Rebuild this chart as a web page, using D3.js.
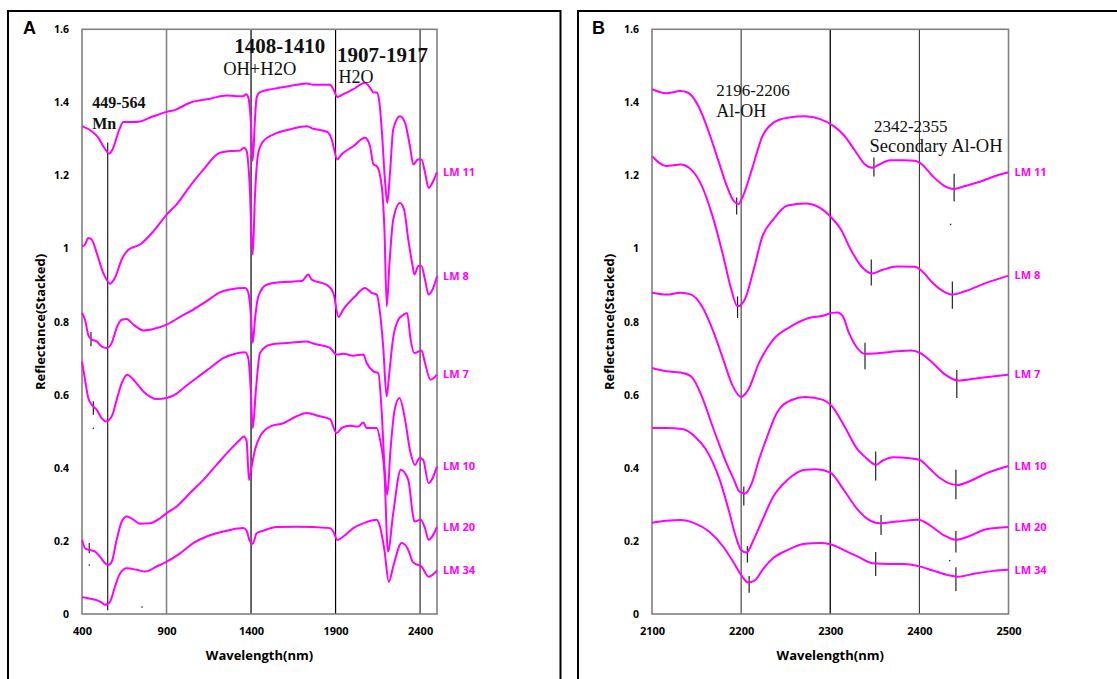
<!DOCTYPE html>
<html><head><meta charset="utf-8">
<script src="https://cdn.jsdelivr.net/npm/d3@7"></script>
<style>body{margin:0;background:#fff}svg{display:block}</style>
</head><body>
<svg id="c" width="1117" height="679"></svg>
<script>
// ---------- data ----------
const seriesNames = ["LM 11","LM 8","LM 7","LM 10","LM 20","LM 34"];
const yTicks = [0,0.2,0.4,0.6,0.8,1,1.2,1.4,1.6];
const xTicksA = [400,900,1400,1900,2400];
const xTicksB = [2100,2200,2300,2400,2500];

const lm11A = [[400,1.335],[457,1.321],[497,1.303],[526,1.280],[562,1.260],[585,1.276],[621,1.326],[645,1.346],[723,1.346],[822,1.362],[901,1.374],[960,1.381],[980,1.386],[1039,1.399],[1157,1.410],[1256,1.419],[1315,1.417],[1354,1.417],[1370,1.422],[1384,1.413],[1398,1.353],[1410,1.240],[1423,1.353],[1433,1.413],[1453,1.428],[1532,1.437],[1630,1.445],[1729,1.452],[1768,1.448],[1867,1.448],[1887,1.436],[1910,1.415],[1936,1.420],[2005,1.436],[2074,1.454],[2104,1.440],[2124,1.427],[2143,1.427],[2157,1.408],[2173,1.326],[2192,1.189],[2206,1.125],[2222,1.207],[2241,1.326],[2281,1.362],[2311,1.344],[2340,1.280],[2360,1.230],[2387,1.244],[2408,1.244],[2429,1.208],[2450,1.166],[2482,1.189],[2500,1.209]];
const lm8A = [[400,1.006],[418,1.011],[437,1.029],[457,1.025],[487,0.988],[526,0.933],[566,0.904],[595,0.920],[635,0.970],[674,0.997],[743,1.011],[822,1.047],[901,1.093],[960,1.121],[1039,1.171],[1118,1.216],[1216,1.262],[1295,1.267],[1335,1.268],[1358,1.276],[1374,1.267],[1390,1.189],[1410,0.984],[1423,1.143],[1443,1.262],[1473,1.294],[1532,1.312],[1630,1.326],[1729,1.335],[1768,1.328],[1837,1.321],[1857,1.317],[1877,1.299],[1910,1.244],[1936,1.258],[2005,1.280],[2074,1.303],[2104,1.280],[2124,1.230],[2143,1.226],[2173,1.171],[2189,1.052],[2203,0.842],[2219,0.961],[2241,1.079],[2281,1.125],[2305,1.107],[2330,1.025],[2356,0.952],[2366,0.929],[2391,0.953],[2408,0.952],[2429,0.915],[2450,0.874],[2482,0.897],[2500,0.924]];
const lm7A = [[400,0.824],[418,0.805],[437,0.764],[457,0.751],[487,0.746],[516,0.732],[546,0.728],[576,0.742],[605,0.783],[635,0.805],[664,0.807],[704,0.792],[763,0.776],[822,0.780],[901,0.792],[980,0.813],[1058,0.833],[1137,0.856],[1216,0.880],[1275,0.888],[1364,0.892],[1384,0.879],[1398,0.824],[1410,0.742],[1423,0.805],[1443,0.869],[1492,0.901],[1571,0.908],[1700,0.911],[1739,0.929],[1759,0.915],[1847,0.901],[1887,0.879],[1917,0.813],[1945,0.833],[2015,0.869],[2074,0.892],[2113,0.879],[2143,0.874],[2163,0.824],[2182,0.730],[2202,0.595],[2218,0.660],[2239,0.750],[2271,0.805],[2302,0.819],[2323,0.824],[2344,0.751],[2366,0.714],[2408,0.721],[2429,0.687],[2461,0.641],[2500,0.655]];
const lm10A = [[400,0.691],[418,0.641],[437,0.591],[457,0.573],[487,0.559],[516,0.536],[542,0.527],[576,0.541],[605,0.586],[635,0.632],[668,0.655],[704,0.641],[763,0.609],[842,0.588],[901,0.591],[960,0.603],[999,0.618],[1078,0.646],[1157,0.673],[1236,0.700],[1295,0.711],[1364,0.716],[1384,0.700],[1398,0.614],[1410,0.509],[1429,0.614],[1453,0.714],[1512,0.737],[1630,0.742],[1729,0.746],[1768,0.740],[1867,0.728],[1906,0.710],[1945,0.712],[2005,0.707],[2064,0.710],[2084,0.687],[2124,0.664],[2153,0.659],[2172,0.560],[2190,0.400],[2206,0.326],[2225,0.450],[2250,0.560],[2278,0.591],[2311,0.532],[2340,0.449],[2370,0.408],[2397,0.427],[2418,0.422],[2450,0.358],[2500,0.404]];
const lm20A = [[400,0.203],[418,0.180],[447,0.175],[477,0.171],[506,0.157],[536,0.139],[556,0.134],[576,0.143],[605,0.203],[635,0.253],[664,0.267],[704,0.258],[743,0.247],[802,0.248],[861,0.262],[901,0.276],[960,0.294],[1039,0.331],[1118,0.367],[1196,0.408],[1275,0.449],[1335,0.477],[1358,0.486],[1374,0.472],[1388,0.367],[1400,0.395],[1423,0.449],[1453,0.486],[1512,0.513],[1591,0.522],[1670,0.541],[1729,0.550],[1798,0.542],[1867,0.533],[1906,0.495],[1936,0.509],[1985,0.515],[2034,0.513],[2064,0.524],[2084,0.509],[2143,0.509],[2163,0.477],[2189,0.385],[2210,0.171],[2241,0.276],[2286,0.395],[2330,0.367],[2356,0.276],[2366,0.253],[2403,0.258],[2429,0.235],[2450,0.203],[2500,0.238]];
const lm34A = [[400,0.046],[437,0.043],[487,0.038],[516,0.031],[536,0.025],[566,0.034],[595,0.075],[625,0.111],[664,0.125],[723,0.121],[773,0.116],[842,0.130],[901,0.143],[980,0.166],[1058,0.194],[1137,0.212],[1196,0.221],[1275,0.230],[1354,0.235],[1374,0.228],[1390,0.203],[1410,0.192],[1433,0.221],[1473,0.228],[1551,0.238],[1670,0.239],[1867,0.235],[1887,0.225],[1910,0.203],[1956,0.216],[2005,0.235],[2064,0.248],[2143,0.258],[2163,0.239],[2189,0.175],[2215,0.088],[2241,0.130],[2291,0.194],[2330,0.175],[2356,0.143],[2366,0.139],[2408,0.130],[2450,0.102],[2500,0.119]];

const lm11B = [[2100,1.436],[2116,1.425],[2132,1.431],[2140,1.427],[2152,1.390],[2164,1.317],[2174,1.244],[2184,1.171],[2192,1.129],[2197,1.122],[2202,1.143],[2212,1.216],[2224,1.308],[2236,1.344],[2252,1.358],[2272,1.362],[2288,1.355],[2304,1.335],[2316,1.308],[2328,1.267],[2339,1.230],[2347,1.221],[2355,1.230],[2367,1.242],[2383,1.242],[2395,1.240],[2403,1.230],[2415,1.198],[2427,1.173],[2439,1.163],[2451,1.171],[2467,1.182],[2487,1.200],[2500,1.209]];
const lm8B = [[2100,1.253],[2116,1.226],[2132,1.230],[2144,1.216],[2156,1.171],[2168,1.088],[2180,0.979],[2188,0.897],[2196,0.842],[2204,0.860],[2214,0.942],[2224,1.034],[2236,1.079],[2252,1.118],[2272,1.123],[2288,1.112],[2300,1.088],[2312,1.052],[2323,0.997],[2335,0.951],[2347,0.932],[2359,0.942],[2375,0.951],[2395,0.950],[2403,0.938],[2415,0.906],[2427,0.883],[2437,0.874],[2451,0.883],[2475,0.906],[2500,0.926]];
const lm7B = [[2100,0.879],[2116,0.874],[2132,0.879],[2144,0.874],[2156,0.842],[2168,0.778],[2180,0.696],[2190,0.627],[2200,0.594],[2208,0.614],[2220,0.687],[2236,0.751],[2256,0.787],[2276,0.810],[2292,0.816],[2302,0.824],[2308,0.825],[2314,0.815],[2321,0.769],[2329,0.732],[2339,0.712],[2355,0.714],[2375,0.719],[2391,0.721],[2401,0.714],[2415,0.687],[2429,0.655],[2443,0.639],[2467,0.646],[2500,0.655]];
const lm10B = [[2100,0.673],[2116,0.664],[2132,0.661],[2144,0.650],[2156,0.595],[2168,0.513],[2176,0.460],[2184,0.410],[2192,0.367],[2198,0.335],[2204,0.329],[2212,0.358],[2220,0.422],[2228,0.477],[2240,0.550],[2256,0.585],[2272,0.594],[2292,0.586],[2302,0.568],[2316,0.513],[2331,0.449],[2339,0.430],[2347,0.413],[2351,0.408],[2359,0.420],[2371,0.429],[2387,0.427],[2400,0.422],[2411,0.399],[2423,0.372],[2435,0.356],[2443,0.353],[2455,0.362],[2475,0.385],[2500,0.405]];
const lm20B = [[2100,0.509],[2116,0.509],[2134,0.506],[2148,0.486],[2160,0.452],[2176,0.367],[2186,0.285],[2194,0.212],[2200,0.175],[2206,0.168],[2214,0.203],[2224,0.258],[2236,0.321],[2252,0.367],[2272,0.395],[2284,0.396],[2300,0.387],[2315,0.340],[2331,0.285],[2343,0.258],[2355,0.248],[2375,0.253],[2399,0.258],[2411,0.244],[2427,0.216],[2441,0.203],[2455,0.212],[2475,0.232],[2500,0.238]];
const lm34B = [[2100,0.250],[2116,0.255],[2132,0.257],[2148,0.248],[2164,0.226],[2180,0.184],[2192,0.139],[2200,0.107],[2208,0.086],[2216,0.093],[2224,0.121],[2236,0.153],[2252,0.175],[2272,0.192],[2288,0.194],[2300,0.191],[2315,0.175],[2331,0.157],[2347,0.139],[2367,0.137],[2383,0.137],[2399,0.131],[2415,0.119],[2431,0.107],[2443,0.102],[2463,0.111],[2483,0.118],[2500,0.121]];

// marker ticks: [wavelength, top value, bottom value]
const markersA = [[552,1.29,0.01],[453,0.772,0.733],[467,0.582,0.545],[443,0.194,0.166]];
const dotsA = [[467,0.508],[443,0.134],[755,0.019]];
const markersB = [[2195,1.140,1.093],[2349,1.249,1.197],[2439,1.205,1.129],
  [2196,0.869,0.810],[2346,0.970,0.899],[2437,0.910,0.835],
  [2339,0.742,0.670],[2442,0.668,0.591],
  [2203,0.349,0.297],[2351,0.445,0.365],[2441,0.395,0.314],
  [2207,0.186,0.141],[2357,0.271,0.216],[2441,0.227,0.168],
  [2209,0.104,0.058],[2351,0.170,0.104],[2441,0.128,0.063]];
const dotsB = [[2435,1.066],[2434,0.146]];

// annotation texts
const annotA = [
  {t:"449-564", x:460, y:1.385, size:16, bold:true},
  {t:"Mn", x:460, y:1.328, size:16, bold:true},
  {t:"1408-1410", x:1300, y:1.536, size:21, bold:true},
  {t:"OH+H2O", x:1235, y:1.474, size:18.5, bold:false},
  {t:"1907-1917", x:1908, y:1.510, size:21, bold:true},
  {t:"H2O", x:1918, y:1.452, size:18, bold:false}
];
const annotB = [
  {t:"2196-2206", x:2172, y:1.417, size:17, bold:false},
  {t:"Al-OH", x:2172, y:1.359, size:18, bold:false},
  {t:"2342-2355", x:2349, y:1.318, size:17, bold:false},
  {t:"Secondary Al-OH", x:2344, y:1.263, size:18.5, bold:false}
];

// ---------- drawing ----------
const svg = d3.select("#c");
svg.append("rect").attr("width",1117).attr("height",679).attr("fill","#fff");
const MAG = "#ff00ff";
const sans = "'Open Sans', Lato, sans-serif";
const serif = "'Liberation Serif', 'DejaVu Serif', serif";

// outer frames
svg.append("rect").attr("x",8).attr("y",11).attr("width",552.5).attr("height",700)
  .attr("fill","none").attr("stroke","#000").attr("stroke-width",2);
svg.append("rect").attr("x",578).attr("y",11).attr("width",600).attr("height",700)
  .attr("fill","none").attr("stroke","#000").attr("stroke-width",2);

const panels = [
  {letter:"A", lx:23, x0:82, x1:437, dom:[400,2500], ticks:xTicksA, series:[lm11A,lm8A,lm7A,lm10A,lm20A,lm34A],
   grid:[[900,"#7f7f7f",1.5],[1400,"#000",1.2],[1900,"#000",1.2],[2400,"#555",1.5]],
   markers:markersA, dots:dotsA, annot:annotA, ytx:40},
  {letter:"B", lx:592, x0:652, x1:1008.5, dom:[2100,2500], ticks:xTicksB, series:[lm11B,lm8B,lm7B,lm10B,lm20B,lm34B],
   grid:[[2200,"#222",1],[2300,"#000",1.3],[2400,"#222",1]],
   markers:markersB, dots:dotsB, annot:annotB, ytx:609}
];

const y = d3.scaleLinear().domain([0,1.6]).range([614,29.3]);

panels.forEach(p => {
  const x = d3.scaleLinear().domain(p.dom).range([p.x0,p.x1]);
  const g = svg.append("g");

  g.append("text").attr("x",p.lx).attr("y",34).text(p.letter)
    .attr("font-family","Arial, 'Liberation Sans', sans-serif").attr("font-weight","bold").attr("font-size",18);

  p.grid.forEach(([v,c,w]) => {
    g.append("line").attr("x1",x(v)).attr("x2",x(v)).attr("y1",y(1.6)).attr("y2",y(0))
      .attr("stroke",c).attr("stroke-width",w);
  });
  g.append("rect").attr("x",p.x0).attr("y",y(1.6)).attr("width",p.x1-p.x0).attr("height",y(0)-y(1.6))
    .attr("fill","none").attr("stroke","#808080").attr("stroke-width",1.6);

  const ya = g.append("g").attr("transform",`translate(${p.x0},0)`)
    .call(d3.axisLeft(y).tickValues(yTicks).tickSize(0).tickPadding(13).tickFormat(d => String(+d.toFixed(1))));
  ya.select(".domain").remove();
  ya.selectAll("text").attr("font-family",sans).attr("font-weight","bold").attr("font-size",10.5).attr("fill","#000");

  const xa = g.append("g").attr("transform",`translate(0,${y(0)})`)
    .call(d3.axisBottom(x).tickValues(p.ticks).tickSize(0).tickPadding(13).tickFormat(d3.format("d")));
  xa.select(".domain").remove();
  xa.selectAll("text").attr("font-family",sans).attr("font-weight","bold").attr("font-size",11).attr("fill","#000");

  g.append("text").attr("x",(p.x0+p.x1)/2).attr("y",660).attr("text-anchor","middle")
    .attr("font-family",sans).attr("font-weight","bold").attr("font-size",13).text("Wavelength(nm)");
  g.append("text").attr("transform",`translate(${p.ytx},322) rotate(-90)`).attr("text-anchor","middle")
    .attr("dy","0.35em").attr("font-family",sans).attr("font-weight","bold").attr("font-size",13).text("Reflectance(Stacked)");

  p.markers.forEach(([w,a,b]) => {
    g.append("line").attr("x1",x(w)).attr("x2",x(w)).attr("y1",y(a)).attr("y2",y(b))
      .attr("stroke","#222").attr("stroke-width",1.2);
  });
  p.dots.forEach(([w,v]) => {
    g.append("rect").attr("x",x(w)-0.7).attr("y",y(v)-0.7).attr("width",1.4).attr("height",1.4).attr("fill","#333");
  });

  const line = d3.line().x(d => x(d[0])).y(d => y(d[1])).curve(d3.curveMonotoneX);
  p.series.forEach((s,i) => {
    g.append("path").datum(s).attr("d",line).attr("fill","none").attr("stroke",MAG).attr("stroke-width",2);
    const last = s[s.length-1];
    g.append("text").attr("x",p.x1+6).attr("y",y(last[1])).attr("dy","0.35em")
      .attr("font-family",sans).attr("font-weight","bold").attr("font-size",11).attr("fill",MAG).text(seriesNames[i]);
  });

  p.annot.forEach(a => {
    g.append("text").attr("x",x(a.x)).attr("y",y(a.y)).text(a.t)
      .attr("font-family",serif).attr("font-size",a.size).attr("font-weight",a.bold?"bold":"normal").attr("fill","#111");
  });
});
</script>
</body></html>
